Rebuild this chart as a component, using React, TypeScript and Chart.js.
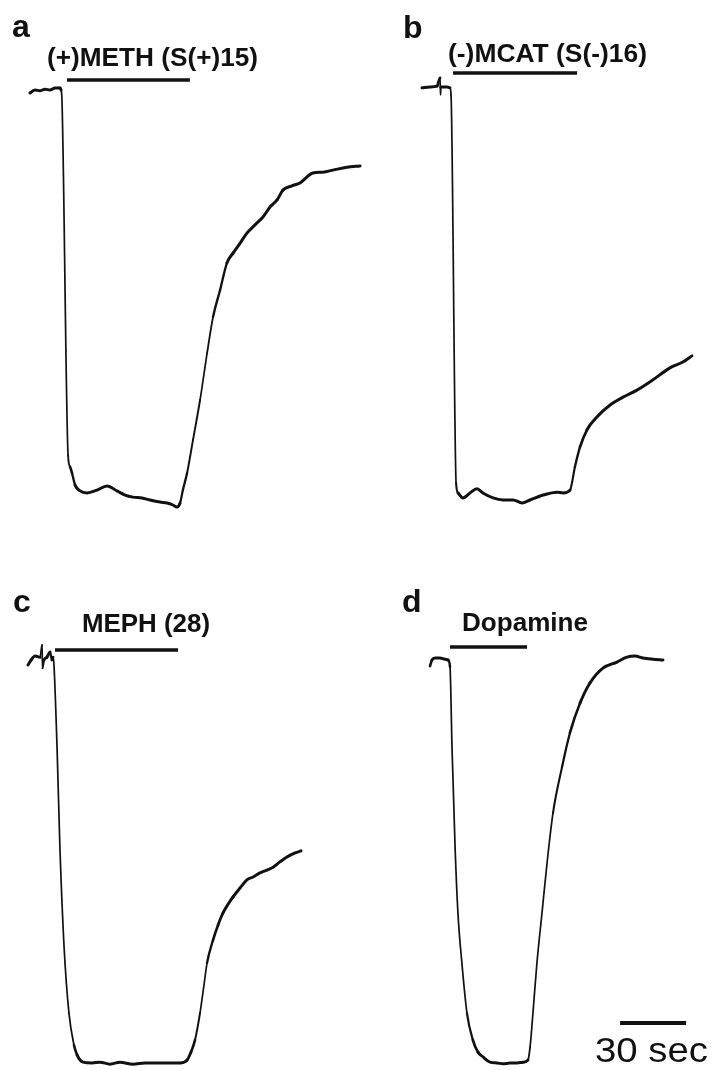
import React, { useEffect, useRef } from "react";
import { Chart, registerables } from "chart.js";

Chart.register(...registerables);

const W = 712;
const H = 1070;
const PX_PER_SEC = 2.2;

// ---- Data (time in s, response relative to baseline, full response = -100) ----
const timeA = [0, 2.3, 4.5, 6.8, 9.1, 11.4, 13.6, 14.1, 14.5, 17.3, 18.2, 19.1, 20.5, 22.7, 25.9, 30.5, 35.0, 39.5, 43.2, 46.8, 50.9, 54.5, 59.1, 62.3, 65.0, 66.8, 68.2, 69.5, 71.4, 74.1, 77.3, 80.5, 83.2, 86.4, 89.5, 92.3, 95.5, 98.6, 102.3, 105.9, 109.1, 112.3, 115.0, 119.1, 122.7, 128.6, 133.2, 137.7, 144.1, 150.0];
const valueA = [-0.7, 0, -0.2, 0.2, 0, 0.5, 0.5, 0, -2, -88, -90.8, -92.3, -95.2, -96.6, -97.1, -96.4, -95.4, -96.6, -97.6, -98.1, -98.3, -98.8, -99.3, -99.5, -100, -100.5, -99.5, -96.4, -92.3, -84.3, -74.7, -63.4, -54.7, -48.2, -41.7, -39.3, -36.9, -34.5, -32.5, -30.6, -28.2, -26.5, -24.1, -23.1, -22.4, -20, -19.8, -19.3, -18.6, -18.3];

const timeB = [0, 3.6, 6.8, 8.2, 8.4, 8.6, 11.4, 12.7, 13.2, 15.5, 16.4, 18.6, 21.8, 25.0, 27.7, 32.3, 36.8, 41.4, 45.5, 49.1, 55.0, 61.4, 64.1, 67.3, 69.5, 71.8, 75.0, 79.5, 85.5, 91.4, 97.7, 105.0, 112.7, 118.6, 122.7];
const valueB = [-0.2, 0, 0.2, 2.2, -1.9, 0, 0, -0.2, -1.9, -95.9, -98.3, -99.5, -98.3, -97.3, -98.3, -99.5, -100, -100, -100.7, -100, -98.8, -98.1, -98.3, -97.6, -92, -87.2, -83, -79.9, -77, -75.1, -73.4, -70.9, -68, -66.6, -65.1];

const timeC = [0, 1.4, 3.2, 5.5, 6.4, 6.6, 7.3, 8.6, 10.0, 10.9, 11.4, 11.8, 13.2, 14.5, 16.4, 18.6, 20.9, 22.3, 25.0, 29.1, 32.7, 37.3, 41.8, 47.7, 53.2, 58.6, 63.2, 69.1, 72.3, 74.1, 75.9, 78.2, 80.0, 81.4, 84.1, 86.4, 88.6, 93.2, 96.4, 99.5, 102.3, 105.5, 108.6, 111.4, 114.5, 117.7, 121.4, 124.1];
const valueC = [-1.7, -0.5, 0.5, 0.2, 3.2, -2.5, -0.5, 0.2, 1.5, -0.5, 0.2, -1.7, -21.9, -46.4, -71, -87.2, -95.1, -97.5, -99.3, -99.5, -99.3, -99.8, -99.3, -99.8, -99.5, -99.5, -99.5, -99.5, -98.8, -96.8, -93.9, -87.2, -80.3, -74.9, -69.3, -65.6, -62.7, -58.7, -56.5, -54.5, -53.8, -52.8, -52.1, -51.4, -50.1, -48.9, -47.9, -47.4];

const timeD = [0, 0.9, 2.3, 4.5, 6.8, 8.2, 9.1, 10.0, 11.4, 12.7, 14.5, 16.8, 19.5, 21.8, 24.1, 27.3, 30.5, 33.2, 36.4, 39.5, 42.3, 44.5, 45.5, 46.8, 48.6, 50.9, 53.2, 55.9, 60.0, 63.6, 68.2, 72.7, 78.6, 85.0, 89.5, 93.2, 96.8, 101.4, 105.9];
const valueD = [-1.5, 0, 0.5, 0.5, 0.2, 0, -1.7, -21.6, -46.4, -62.8, -75.2, -87.6, -94.3, -97.3, -98.5, -99.8, -100, -100.2, -100, -100, -99.8, -99.3, -96, -87.6, -75.2, -62.8, -50.4, -38, -26.6, -18.1, -10.7, -5.7, -2, -0.5, 0.7, 1, 0.5, 0.2, 0];

const panelLetters = ["a", "b", "c", "d"];
const drugLabels = ["(+)METH (S(+)15)", "(-)MCAT (S(-)16)", "MEPH (28)", "Dopamine"];
const drugStart = [16.8, 14.1, 12.3, 9.1];
const drugEnd = [72.7, 70.5, 68.2, 44.1];
const scaleBarStart = 86.4;
const scaleBarSeconds = 30;
const scaleBarLabel = "30 sec";

// ---- Layout (pixels) ----
const layout = [
  { x0: 30, yb: 90, ybot: 505, barY: 80, lx: 47, ly: 66, lw: 211, px: 12, py: 37 },
  { x0: 422, yb: 87, ybot: 500, barY: 73, lx: 448, ly: 62, lw: 199, px: 403, py: 38 },
  { x0: 28, yb: 658, ybot: 1065, barY: 650, lx: 82, ly: 632, lw: 128, px: 13, py: 612 },
  { x0: 430, yb: 660, ybot: 1063, barY: 647, lx: 462, ly: 631, lw: 126, px: 402, py: 612 },
];
const scaleBarLayout = { y: 1023, lx: 595, ly: 1062, lw: 113 };

const FONT = '"Liberation Sans", Arial, Helvetica, sans-serif';
const INK = "#111111";

function fitText(ctx: CanvasRenderingContext2D, text: string, x: number, y: number, w: number, font: string) {
  ctx.save();
  ctx.font = font;
  ctx.textAlign = "left";
  ctx.textBaseline = "alphabetic";
  const m = ctx.measureText(text).width;
  ctx.translate(x, y);
  ctx.scale(w / m, 1);
  ctx.fillStyle = INK;
  ctx.fillText(text, 0, 0);
  ctx.restore();
}

const series = [
  [timeA, valueA],
  [timeB, valueB],
  [timeC, valueC],
  [timeD, valueD],
];

export default function App() {
  const ref = useRef<HTMLCanvasElement | null>(null);

  useEffect(() => {
    if (!ref.current) return;
    const scales: any = {};
    layout.forEach((p, i) => {
      scales["x" + i] = {
        type: "linear",
        display: false,
        min: -p.x0 / PX_PER_SEC,
        max: (W - p.x0) / PX_PER_SEC,
      };
      const k = (p.ybot - p.yb) / 100;
      const ymax = p.yb / k;
      scales["y" + i] = {
        type: "linear",
        display: false,
        min: ymax - H / k,
        max: ymax,
      };
    });

    const datasets = series.map(([t, v], i) => ({
      data: t.map((x, j) => ({ x, y: v[j] })),
      xAxisID: "x" + i,
      yAxisID: "y" + i,
      borderColor: INK,
      borderWidth: 3,
      pointRadius: 0,
      fill: false,
      cubicInterpolationMode: "monotone" as const,
      borderJoinStyle: "round" as const,
      borderCapStyle: "round" as const,
      segment: {
        borderWidth: (c: any) => {
          const dx = Math.max(0.01, Math.abs(c.p1.x - c.p0.x));
          const dy = Math.abs(c.p1.y - c.p0.y);
          const s = dy / dx;
          const f = Math.min(1, Math.max(0, (s - 1.5) / 5));
          return 3 - 1.3 * f;
        },
      },
    }));

    const annotate = {
      id: "annotate",
      afterDraw(chart: any) {
        const ctx: CanvasRenderingContext2D = chart.ctx;
        layout.forEach((p, i) => {
          const xs = chart.scales["x" + i];
          const xa = xs.getPixelForValue(drugStart[i]);
          const xb = xs.getPixelForValue(drugEnd[i]);
          ctx.save();
          ctx.strokeStyle = INK;
          ctx.lineWidth = 3.5;
          ctx.beginPath();
          ctx.moveTo(xa, p.barY);
          ctx.lineTo(xb, p.barY);
          ctx.stroke();
          ctx.restore();
          fitText(ctx, drugLabels[i], p.lx, p.ly, p.lw, "bold 25px " + FONT);
          ctx.save();
          ctx.font = "bold 32px " + FONT;
          ctx.fillStyle = INK;
          ctx.textBaseline = "alphabetic";
          ctx.fillText(panelLetters[i], p.px, p.py);
          ctx.restore();
        });
        const xs = chart.scales["x3"];
        const sa = xs.getPixelForValue(scaleBarStart);
        const sb = xs.getPixelForValue(scaleBarStart + scaleBarSeconds);
        ctx.save();
        ctx.strokeStyle = INK;
        ctx.lineWidth = 4;
        ctx.beginPath();
        ctx.moveTo(sa, scaleBarLayout.y);
        ctx.lineTo(sb, scaleBarLayout.y);
        ctx.stroke();
        ctx.restore();
        fitText(ctx, scaleBarLabel, scaleBarLayout.lx, scaleBarLayout.ly, scaleBarLayout.lw, "35px " + FONT);
      },
    };

    const chart = new Chart(ref.current, {
      type: "line",
      data: { datasets },
      options: {
        animation: false,
        responsive: false,
        events: [],
        layout: { padding: 0 },
        scales,
        plugins: {
          legend: { display: false },
          tooltip: { enabled: false },
          title: { display: false },
        },
      },
      plugins: [annotate],
    } as any);
    return () => chart.destroy();
  }, []);

  return (
    <div style={{ position: "absolute", left: 0, top: 0, width: W, height: H, background: "#fff" }}>
      <canvas ref={ref} width={W} height={H} style={{ display: "block", width: W, height: H }} />
    </div>
  );
}
